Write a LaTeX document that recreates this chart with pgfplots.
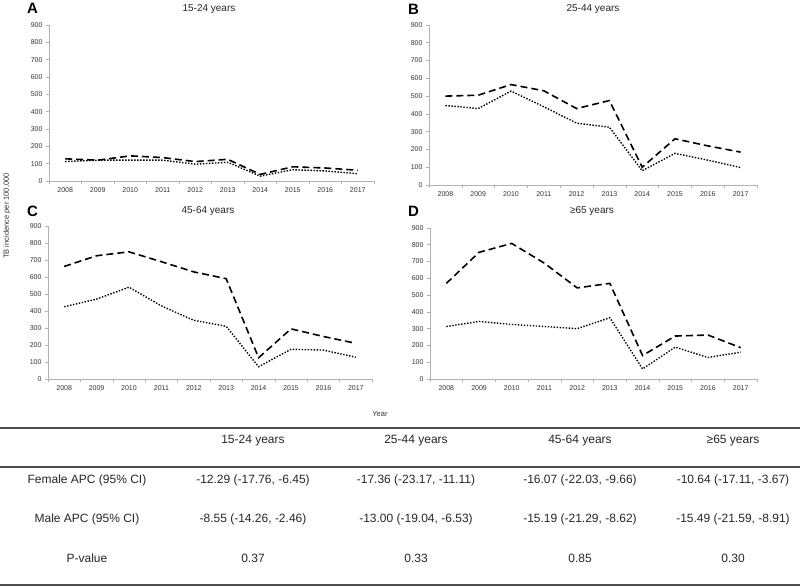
\documentclass[border=0pt]{standalone}
\usepackage{fontspec}
\setmainfont{Liberation Sans}
\usepackage{pgfplots}
\pgfplotsset{compat=1.18}

% 1 px of the reference = 1 pt here; y measured upwards from the bottom (586)
\pgfplotsset{
  panel/.style={
    scale only axis, anchor=south west,
    xmin=2007.5, xmax=2017.5, ymin=0, ymax=900,
    axis x line*=bottom, axis y line*=left,
    axis line style={draw=black!30, line width=0.8pt, -},
    xtick={2007.5,2008.5,2009.5,2010.5,2011.5,2012.5,2013.5,2014.5,2015.5,2016.5,2017.5},
    x tick label as interval,
    xticklabels={2008,2009,2010,2011,2012,2013,2014,2015,2016,2017},
    ytick={0,100,...,900},
    tick align=outside, major tick length=3pt,
    tick style={draw=black!30, line width=0.6pt},
    tick label style={font=\fontsize{7}{8}\selectfont, text=black!80},
    /pgf/number format/assume math mode=true,
    /pgf/number format/1000 sep={},
  },
  male/.style={black, line width=1.6pt, dash pattern=on 7pt off 4pt},
  female/.style={black, line width=1.4pt, dash pattern=on 1.4pt off 1.6pt},
}

\newcommand\lettr[1]{{\fontsize{15}{16}\selectfont\bfseries #1}}
\newcommand\ttl{\fontsize{10}{11}\selectfont}
\newcommand\tbl{\fontsize{12}{13}\selectfont}

\begin{document}
\begin{tikzpicture}[x=1pt,y=1pt]
\useasboundingbox (0,0) rectangle (800,586);

% A: 15-24 years
\begin{axis}[panel, at={(49pt,405pt)}, width=325pt, height=156pt]
\addplot[male] coordinates {(2008,128) (2009,120) (2010,145) (2011,135) (2012,112) (2013,125) (2014,38) (2015,82) (2016,75) (2017,62)};
\addplot[female] coordinates {(2008,112) (2009,120) (2010,120) (2011,120) (2012,97) (2013,108) (2014,28) (2015,65) (2016,58) (2017,42)};
\end{axis}

% B: 25-44 years
\begin{axis}[panel, at={(429pt,401pt)}, width=328pt, height=160pt]
\addplot[male] coordinates {(2008,500) (2009,505) (2010,565) (2011,530) (2012,430) (2013,475) (2014,100) (2015,260) (2016,220) (2017,185)};
\addplot[female] coordinates {(2008,447) (2009,430) (2010,528) (2011,440) (2012,348) (2013,325) (2014,80) (2015,178) (2016,140) (2017,98)};
\end{axis}

% C: 45-64 years
\begin{axis}[panel, at={(48pt,207pt)}, width=324pt, height=153pt]
\addplot[male] coordinates {(2008,662) (2009,725) (2010,748) (2011,690) (2012,630) (2013,590) (2014,125) (2015,295) (2016,250) (2017,210)};
\addplot[female] coordinates {(2008,425) (2009,470) (2010,540) (2011,430) (2012,345) (2013,310) (2014,72) (2015,175) (2016,170) (2017,128)};
\end{axis}

% D: >=65 years
\begin{axis}[panel, at={(430pt,207pt)}, width=327pt, height=151pt]
\addplot[male] coordinates {(2008,570) (2009,755) (2010,808) (2011,690) (2012,543) (2013,570) (2014,140) (2015,256) (2016,262) (2017,187)};
\addplot[female] coordinates {(2008,313) (2009,343) (2010,325) (2011,313) (2012,300) (2013,365) (2014,60) (2015,190) (2016,128) (2017,160)};
\end{axis}

% panel letters and titles
\node at (32.5,577.5) {\lettr{A}};
\node at (413.5,577) {\lettr{B}};
\node at (32.5,375) {\lettr{C}};
\node at (413.5,375) {\lettr{D}};
\node[text=black!85] at (209,577) {\ttl 15-24 years};
\node[text=black!85] at (593,577) {\ttl 25-44 years};
\node[text=black!85] at (208,375) {\ttl 45-64 years};
\node[text=black!85] at (592,375) {\ttl ≥65 years};

% shared axis titles
\node[rotate=90, text=black!80] at (7,370) {\fontsize{7.5}{8}\selectfont TB incidence per 100,000};
\node[text=black!80] at (380,172) {\fontsize{7.5}{8}\selectfont Year};

% table
\draw[black!70, line width=1.1pt] (0,158) -- (800,158);
\draw[black!70, line width=1.1pt] (0,119) -- (800,119);
\draw[black!70, line width=1.1pt] (0,1) -- (800,1);
\begin{scope}[every node/.style={text=black!85}]
\node at (253,145) {\tbl 15-24 years};
\node at (416,145) {\tbl 25-44 years};
\node at (580,145) {\tbl 45-64 years};
\node at (733,145) {\tbl ≥65 years};
\node at (87,106) {\tbl Female APC (95\% CI)};
\node at (253,106) {\tbl -12.29 (-17.76, -6.45)};
\node at (416,106) {\tbl -17.36 (-23.17, -11.11)};
\node at (580,106) {\tbl -16.07 (-22.03, -9.66)};
\node at (733,106) {\tbl -10.64 (-17.11, -3.67)};
\node at (87,67) {\tbl Male APC (95\% CI)};
\node at (253,67) {\tbl -8.55 (-14.26, -2.46)};
\node at (416,67) {\tbl -13.00 (-19.04, -6.53)};
\node at (580,67) {\tbl -15.19 (-21.29, -8.62)};
\node at (733,67) {\tbl -15.49 (-21.59, -8.91)};
\node at (87,28) {\tbl P-value};
\node at (253,28) {\tbl 0.37};
\node at (416,28) {\tbl 0.33};
\node at (580,28) {\tbl 0.85};
\node at (733,28) {\tbl 0.30};
\end{scope}
\end{tikzpicture}
\end{document}
